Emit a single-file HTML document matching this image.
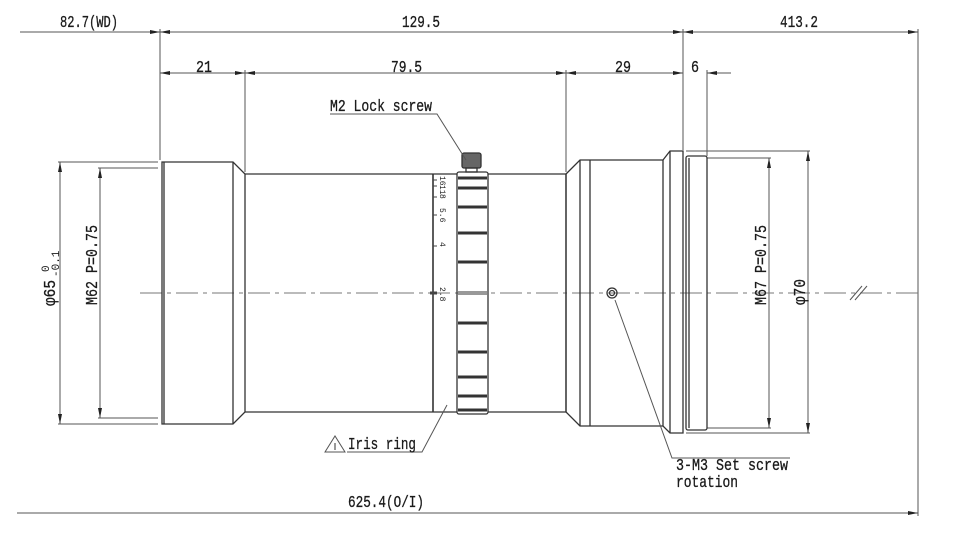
<!DOCTYPE html>
<html><head><meta charset="utf-8"><style>
html,body{margin:0;padding:0;background:#fff;}
svg{display:block;}
text{font-family:"Liberation Mono","DejaVu Sans Mono",monospace;fill:#1a1a1a;}
</style></head><body>
<svg width="956" height="540" viewBox="0 0 956 540" xmlns="http://www.w3.org/2000/svg">
<defs>
<marker id="a" viewBox="0 0 10 4" refX="10" refY="2" markerWidth="10" markerHeight="4" orient="auto-start-reverse" markerUnits="userSpaceOnUse"><path d="M0,0 L10,2 L0,4 z" fill="#222"/></marker>
</defs>
<g stroke="#555" stroke-width="1" fill="none">
<line x1="20" y1="32" x2="160" y2="32" marker-end="url(#a)"/>
<line x1="160" y1="32" x2="683" y2="32" marker-start="url(#a)" marker-end="url(#a)"/>
<line x1="683" y1="32" x2="918" y2="32" marker-start="url(#a)" marker-end="url(#a)"/>
<line x1="160" y1="73" x2="245" y2="73" marker-start="url(#a)" marker-end="url(#a)"/>
<line x1="245" y1="73" x2="566" y2="73" marker-start="url(#a)" marker-end="url(#a)"/>
<line x1="566" y1="73" x2="683" y2="73" marker-start="url(#a)" marker-end="url(#a)"/>
<line x1="707" y1="73" x2="731" y2="73" marker-start="url(#a)"/>
<line x1="160" y1="29" x2="160" y2="160"/>
<line x1="245" y1="70" x2="245" y2="172"/>
<line x1="566" y1="70" x2="566" y2="172"/>
<line x1="683" y1="29" x2="683" y2="150"/>
<line x1="707" y1="70" x2="707" y2="156"/>
<line x1="918" y1="29" x2="918" y2="516"/>
<line x1="17" y1="513" x2="918" y2="513" marker-end="url(#a)"/>
<line x1="58" y1="162" x2="158" y2="162"/>
<line x1="58" y1="424" x2="158" y2="424"/>
<line x1="98" y1="168" x2="158" y2="168"/>
<line x1="98" y1="418" x2="158" y2="418"/>
<line x1="60" y1="162" x2="60" y2="424" marker-start="url(#a)" marker-end="url(#a)"/>
<line x1="100" y1="168" x2="100" y2="418" marker-start="url(#a)" marker-end="url(#a)"/>
<line x1="686" y1="151" x2="810" y2="151"/>
<line x1="686" y1="433" x2="810" y2="433"/>
<line x1="707" y1="158" x2="771" y2="158"/>
<line x1="707" y1="428" x2="771" y2="428"/>
<line x1="769" y1="158" x2="769" y2="428" marker-start="url(#a)" marker-end="url(#a)"/>
<line x1="808" y1="151" x2="808" y2="433" marker-start="url(#a)" marker-end="url(#a)"/>
<line x1="140" y1="293" x2="918" y2="293" stroke-dasharray="22,5,4,5" stroke="#777"/>
<line x1="850" y1="300" x2="862" y2="286"/><line x1="855" y1="300" x2="867" y2="286"/>
</g>
<g stroke="#333" stroke-width="1.3" fill="none">
<path d="M162,162 L233,162 L245,174 L245,412 L233,424 L162,424 Z"/>
<line x1="164" y1="162" x2="164" y2="424"/>
<line x1="233" y1="162" x2="233" y2="424"/>
<line x1="245" y1="174" x2="457" y2="174"/>
<line x1="245" y1="412" x2="457" y2="412"/>
<line x1="433" y1="174" x2="433" y2="412" stroke-width="1.6"/>
<rect x="457" y="172" width="31" height="242" rx="2"/>
<rect x="462" y="153" width="19" height="15" rx="2" fill="#666"/>
<rect x="466" y="168" width="11" height="4"/>
<line x1="488" y1="174" x2="566" y2="174"/>
<line x1="488" y1="412" x2="566" y2="412"/>
<path d="M566,174 L580,160 L663,160 L670,151 L683,151 L683,433 L670,433 L663,426 L580,426 L566,412 Z"/>
<line x1="566" y1="174" x2="566" y2="412"/>
<line x1="580" y1="160" x2="580" y2="426"/>
<line x1="590" y1="160" x2="590" y2="426"/>
<line x1="663" y1="160" x2="663" y2="426"/>
<line x1="670" y1="151" x2="670" y2="433"/>
<rect x="686" y="156" width="21" height="274" rx="2"/>
<line x1="689" y1="158" x2="689" y2="428"/>
<circle cx="612" cy="293" r="5"/>
<circle cx="612" cy="293" r="2.5"/>
</g>
<g stroke="#333" stroke-width="3">
<line x1="458" y1="178" x2="487" y2="178"/><line x1="458" y1="188" x2="487" y2="188"/>
<line x1="458" y1="207" x2="487" y2="207"/><line x1="458" y1="233" x2="487" y2="233"/>
<line x1="458" y1="262" x2="487" y2="262"/><line x1="458" y1="323" x2="487" y2="323"/>
<line x1="458" y1="352" x2="487" y2="352"/><line x1="458" y1="377" x2="487" y2="377"/>
<line x1="458" y1="396" x2="487" y2="396"/><line x1="458" y1="410" x2="487" y2="410"/>
</g>
<rect x="458" y="291" width="29" height="4" fill="#999"/>
<g stroke="#444" stroke-width="1">
<line x1="433" y1="180" x2="437" y2="180"/><line x1="433" y1="186" x2="437" y2="186"/>
<line x1="433" y1="197" x2="437" y2="197"/><line x1="433" y1="215" x2="437" y2="215"/>
<line x1="433" y1="246" x2="437" y2="246"/><line x1="430" y1="293" x2="437" y2="293" stroke-width="3"/>
</g>
<g font-size="8" fill="#333">
<text transform="translate(440,176) rotate(90)">16</text>
<text transform="translate(440,185) rotate(90)">11</text>
<text transform="translate(440,194) rotate(90)">8</text>
<text transform="translate(440,208) rotate(90)">5.6</text>
<text transform="translate(440,242) rotate(90)">4</text>
<text transform="translate(440,287) rotate(90)">2.8</text>
</g>
<g stroke="#555" stroke-width="1" fill="none">
<path d="M330,114 L437,114 L466,160"/>
<path d="M615,300 L672,458 L790,458"/>
<path d="M347,452 L422,452 L447,405"/>
<path d="M325,452 L335,436 L345,452 Z"/>
</g>
<g font-size="17" stroke="#1a1a1a" stroke-width="0.3">
<text x="60" y="27" textLength="58" lengthAdjust="spacingAndGlyphs">82.7(WD)</text>
<text x="402" y="27" textLength="38" lengthAdjust="spacingAndGlyphs">129.5</text>
<text x="780" y="27" textLength="38" lengthAdjust="spacingAndGlyphs">413.2</text>
<text x="196" y="72" textLength="16" lengthAdjust="spacingAndGlyphs">21</text>
<text x="391" y="72" textLength="31" lengthAdjust="spacingAndGlyphs">79.5</text>
<text x="615" y="72" textLength="16" lengthAdjust="spacingAndGlyphs">29</text>
<text x="691" y="72" textLength="8" lengthAdjust="spacingAndGlyphs">6</text>
<text x="348" y="507" textLength="76" lengthAdjust="spacingAndGlyphs">625.4(O/I)</text>
<text x="330" y="111" textLength="102" lengthAdjust="spacingAndGlyphs">M2 Lock screw</text>
<text x="348" y="449" textLength="68" lengthAdjust="spacingAndGlyphs">Iris ring</text>
<text x="676" y="470" textLength="112" lengthAdjust="spacingAndGlyphs">3-M3 Set screw</text>
<text x="676" y="487" textLength="62" lengthAdjust="spacingAndGlyphs">rotation</text>
<text transform="translate(55,306) rotate(-90)" textLength="26" lengthAdjust="spacingAndGlyphs">φ65</text>
<text transform="translate(97,305) rotate(-90)" textLength="80" lengthAdjust="spacingAndGlyphs">M62 P=0.75</text>
<text transform="translate(766,305) rotate(-90)" textLength="80" lengthAdjust="spacingAndGlyphs">M67 P=0.75</text>
<text transform="translate(805,305) rotate(-90)" textLength="26" lengthAdjust="spacingAndGlyphs">φ70</text>
</g>
<g font-size="11">
<text transform="translate(49,272) rotate(-90)">0</text>
<text transform="translate(59,277) rotate(-90)">-0.1</text>
</g>
<line x1="335" y1="443" x2="335" y2="450" stroke="#333"/>
</svg>
</body></html>
